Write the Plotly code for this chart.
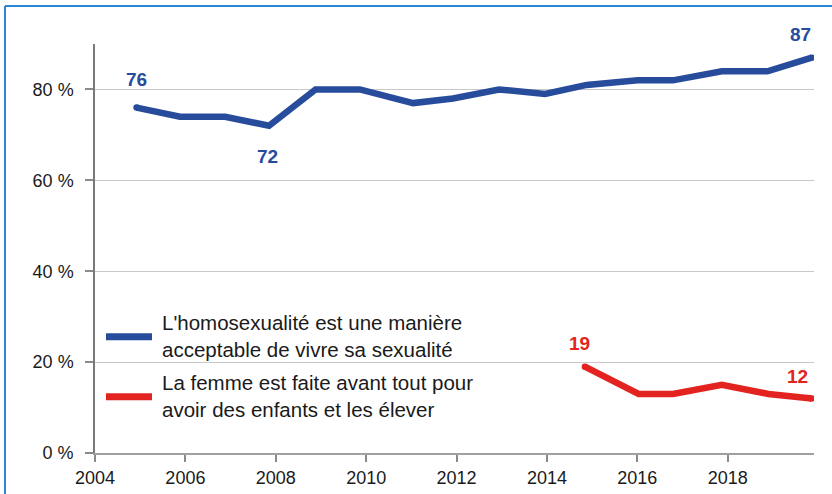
import plotly.graph_objects as go

# Data (survey dates, as fractional years)
years_blue = [2004.92, 2005.88, 2006.88, 2007.85, 2008.88, 2009.86, 2011.04, 2011.92,
              2012.94, 2013.96, 2014.88, 2016.01, 2016.79, 2017.87, 2018.88, 2019.86]
vals_blue = [76, 74, 74, 72, 80, 80, 77, 78, 80, 79, 81, 82, 82, 84, 84, 87]

years_red = [2014.84, 2016.03, 2016.79, 2017.87, 2018.9, 2019.86]
vals_red = [19, 13, 13, 15, 13, 12]

name_blue = "L'homosexualité est une manière<br>acceptable de vivre sa sexualité"
name_red = "La femme est faite avant tout pour<br>avoir des enfants et les élever"

x_ticks = [2004, 2006, 2008, 2010, 2012, 2014, 2016, 2018]
y_ticks = [0, 20, 40, 60, 80]
y_ticktext = ["0 %", "20 %", "40 %", "60 %", "80 %"]

BLUE = "#284c9c"
RED = "#e32320"
FRAME = "#2a88d8"
TICKFONT = "Liberation Sans, Arial, sans-serif"

fig = go.Figure()
fig.add_trace(go.Scatter(x=years_blue, y=vals_blue, mode="lines", name=name_blue,
                         line=dict(color=BLUE, width=6.5), showlegend=False,
                         hoverinfo="skip"))
fig.add_trace(go.Scatter(x=years_red, y=vals_red, mode="lines", name=name_red,
                         line=dict(color=RED, width=6.5), showlegend=False,
                         hoverinfo="skip"))
# round end caps
fig.add_trace(go.Scatter(x=[years_blue[0], years_blue[-1]], y=[vals_blue[0], vals_blue[-1]],
                         mode="markers", marker=dict(color=BLUE, size=6.5, line=dict(width=0)),
                         showlegend=False, hoverinfo="skip"))
fig.add_trace(go.Scatter(x=[years_red[0], years_red[-1]], y=[vals_red[0], vals_red[-1]],
                         mode="markers", marker=dict(color=RED, size=6.5, line=dict(width=0)),
                         showlegend=False, hoverinfo="skip"))

labfont = dict(family="Liberation Sans, Arial", size=19)
ann = []
def lab(x, y, color, xs, ys):
    ann.append(dict(x=x, y=y, xref="x", yref="y", text="<b>%d</b>" % y, showarrow=False,
                    font=dict(labfont, color=color), xshift=xs, yshift=ys,
                    xanchor="center", yanchor="middle"))

lab(years_blue[0], vals_blue[0], BLUE, 0, 28)
lab(years_blue[3], vals_blue[3], BLUE, -1, -31)
lab(years_blue[-1], vals_blue[-1], BLUE, -11, 23)
lab(years_red[0], vals_red[0], RED, -5, 23)
lab(years_red[-1], vals_red[-1], RED, -14, 22)

# legend (drawn manually)
def px2paper_x(px):
    return (px - 95) / 719.0

def px2paper_y(py):
    return (453 - py) / 409.0

shapes = []
for color, py, text in [(BLUE, 336.7, name_blue), (RED, 396.7, name_red)]:
    shapes.append(dict(type="line", xref="paper", yref="paper",
                       x0=px2paper_x(106), x1=px2paper_x(152),
                       y0=px2paper_y(py), y1=px2paper_y(py),
                       line=dict(color=color, width=7)))
    ann.append(dict(x=px2paper_x(160), y=px2paper_y(py - 0.5), xref="paper", yref="paper",
                    text=text, showarrow=False, align="left", xanchor="left",
                    yanchor="middle", font=dict(family="Liberation Sans, Arial", size=20.5,
                                                color="#1a1a1a")))

# frame (left and top edges; the rest lies outside the picture)
shapes.append(dict(type="line", xref="paper", yref="paper",
                   x0=px2paper_x(5), x1=px2paper_x(5),
                   y0=px2paper_y(494), y1=px2paper_y(6),
                   line=dict(color=FRAME, width=2), layer="below"))
shapes.append(dict(type="line", xref="paper", yref="paper",
                   x0=px2paper_x(5), x1=px2paper_x(832),
                   y0=px2paper_y(6), y1=px2paper_y(6),
                   line=dict(color=FRAME, width=2), layer="below"))

fig.update_layout(
    width=832, height=494,
    margin=dict(l=95, r=18, t=44, b=41, autoexpand=False),
    paper_bgcolor="white", plot_bgcolor="white",
    annotations=ann, shapes=shapes,
    showlegend=False,
    xaxis=dict(range=[2004, 2019.91], tickvals=x_ticks, ticktext=[str(v) for v in x_ticks],
               automargin=False,
               showgrid=False, zeroline=False, showline=True, linecolor="#a0a0a0",
               linewidth=2, ticks="outside", ticklen=7, tickwidth=1.5, tickcolor="#8a8a8a",
               tickfont=dict(family=TICKFONT, size=18, color="#1a1a1a")),
    yaxis=dict(range=[0, 90], tickvals=y_ticks, ticktext=y_ticktext,
               automargin=False,
               showgrid=True, gridcolor="#c8c8c8", gridwidth=1, zeroline=False,
               showline=True, linecolor="#7a7a7a", linewidth=1.5,
               ticks="outside", ticklen=8, tickwidth=1.5, tickcolor="#8a8a8a",
               ticklabelstandoff=8,
               tickfont=dict(family=TICKFONT, size=18, color="#1a1a1a")),
)

fig.write_html("out.html", config={"displayModeBar": False},
               post_script="document.body.style.margin='0';document.documentElement.style.overflow='hidden';")
